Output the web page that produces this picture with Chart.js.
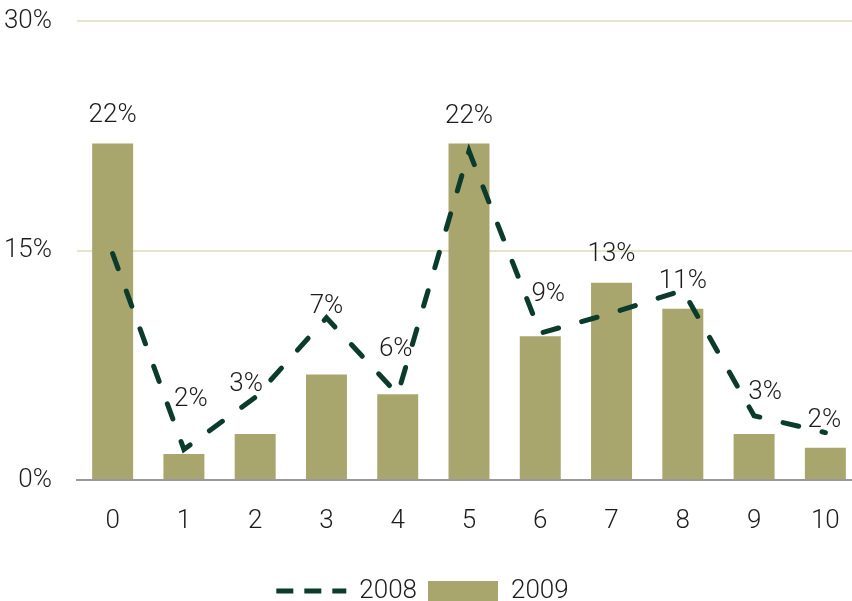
<!DOCTYPE html>
<html>
<head>
<meta charset="utf-8">
<script src="https://cdn.jsdelivr.net/npm/chart.js@4"></script>
<style>
  html, body { margin: 0; padding: 0; background: #fff; }
  #clip { width: 852px; height: 601px; overflow: hidden; }
  #wrap { width: 861px; height: 601px; position: relative; }
</style>
</head>
<body>
<div id="clip"><div id="wrap"><canvas id="chart"></canvas></div></div>
<script>
const categories = ["0", "1", "2", "3", "4", "5", "6", "7", "8", "9", "10"];
const values2008 = [14.8, 2.0, 5.4, 10.6, 5.6, 21.5, 9.6, 10.9, 12.4, 4.2, 3.1];
const values2009 = [22.0, 1.7, 3.0, 6.9, 5.6, 22.0, 9.4, 12.9, 11.2, 3.0, 2.1];
const yTicks = [0, 15, 30];

const FONT = "Roboto, 'DejaVu Sans Condensed', sans-serif";
const BAR_COLOR = "#a9a66d";
const LINE_COLOR = "#0b3b2c";
const TEXT_COLOR = "#1c1c1c";

// bar value labels, nudged like in the original
const barLabels = {
    id: "barLabels",
    afterLayout(chart, args, opts) {
        // the legend sits a bit lower and further left than chart.js puts it
        const lg = chart.legend;
        lg.left += opts.legendShift[0];
        lg.right += opts.legendShift[0];
        lg.top += opts.legendShift[1];
        lg.bottom += opts.legendShift[1];
    },
    afterDatasetsDraw(chart, args, opts) {
        const meta = chart.getDatasetMeta(1);
        const ctx = chart.ctx;
        ctx.save();
        ctx.font = "300 26px " + FONT;
        ctx.fillStyle = TEXT_COLOR;
        ctx.textAlign = "center";
        ctx.textBaseline = "middle";
        meta.data.forEach((bar, i) => {
            const v = chart.data.datasets[1].data[i];
            ctx.fillText(Math.round(v) + "%", bar.x + opts.dx[i], bar.y + opts.dy[i]);
        });
        ctx.restore();
    }
};

const ctx = document.getElementById("chart").getContext("2d");

new Chart(ctx, {
    data: {
        labels: categories,
        datasets: [
            {
                type: "line",
                label: "2008",
                data: values2008,
                borderColor: LINE_COLOR,
                backgroundColor: LINE_COLOR,
                borderWidth: 5,
                borderDash: [16, 24],
                borderCapStyle: "round",
                pointRadius: 0,
                tension: 0,
                order: 0
            },
            {
                type: "bar",
                label: "2009",
                data: values2009,
                backgroundColor: BAR_COLOR,
                borderWidth: 0,
                barPercentage: 0.575,
                categoryPercentage: 1,
                order: 1
            }
        ]
    },
    options: {
        responsive: true,
        maintainAspectRatio: false,
        animation: false,
        layout: {
            padding: { top: 21, right: 0, left: 0, bottom: 0 }
        },
        scales: {
            x: {
                grid: { display: false, drawTicks: false },
                border: { display: true, color: "#999999", width: 2 },
                ticks: {
                    color: TEXT_COLOR,
                    font: { family: FONT, size: 26, weight: 300 },
                    padding: 26
                },
                afterFit: (scale) => {
                    scale.height = 74;
                    scale.paddingLeft = 0;
                    scale.paddingRight = 0;
                }
            },
            y: {
                min: 0,
                max: 30,
                afterBuildTicks: (scale) => {
                    scale.ticks = yTicks.map(v => ({ value: v }));
                },
                afterFit: (scale) => {
                    scale.width = 77;
                    scale.paddingTop = 0;
                    scale.paddingBottom = 0;
                },
                grid: {
                    drawTicks: false,
                    lineWidth: 2,
                    color: (c) => c.tick && c.tick.value === 0 ? "rgba(0,0,0,0)" : "#e6e5cb"
                },
                border: { display: false },
                ticks: {
                    color: TEXT_COLOR,
                    font: { family: FONT, size: 26, weight: 300 },
                    padding: 25,
                    callback: (v) => v + "%"
                }
            }
        },
        plugins: {
            tooltip: { enabled: false },
            legend: {
                position: "bottom",
                labels: {
                    color: TEXT_COLOR,
                    font: { family: FONT, size: 26, weight: 300 },
                    usePointStyle: true,
                    pointStyleWidth: 70,
                    boxHeight: 20,
                    padding: 11,
                    generateLabels: (chart) => {
                        const items = Chart.defaults.plugins.legend.labels.generateLabels(chart);
                        items.forEach((it) => {
                            if (it.text === "2008") {
                                it.pointStyle = "line";
                                it.lineDash = [17, 11];
                                it.lineCap = "butt";
                                it.lineWidth = 5;
                            } else {
                                it.pointStyle = "rect";
                                it.lineWidth = 0;
                            }
                        });
                        return items;
                    }
                }
            },
            barLabels: {
                dx: [0, 7, -9, 0, -2, 0, 8, 0, 0, 11, -1],
                dy: [-28, -54, -50, -68, -45, -27, -42, -28, -27, -42, -27],
                legendShift: [-8, 13]
            }
        }
    },
    plugins: [barLabels]
});
</script>
</body>
</html>
